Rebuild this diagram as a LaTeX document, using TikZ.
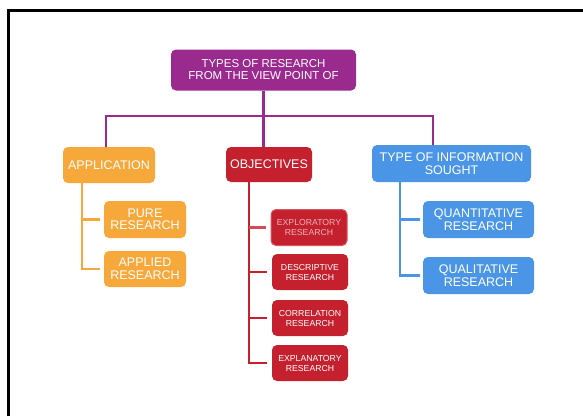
\documentclass[tikz,border=0pt]{standalone}
\usepackage{fontspec}
\setmainfont{Liberation Sans}
\usetikzlibrary{positioning}
\definecolor{HeadPurple}{HTML}{9A2A8E}
\definecolor{AppOrange}{HTML}{F6A83A}
\definecolor{ObjRed}{HTML}{C5202E}
\definecolor{InfoBlue}{HTML}{4B95E6}

\begin{document}
\begin{tikzpicture}[x=1pt, y=-1pt,
  box/.style={rounded corners=5pt, align=center, text=white, inner sep=1pt,
              font=\fontsize{12.5}{12.5}\selectfont},
  small/.style={box, minimum width=76pt, minimum height=36pt, fill=ObjRed,
                font=\fontsize{8.7}{10}\selectfont},
  link/.style={line width=2.8pt}
]
  \useasboundingbox (0,0) rectangle (583,416);
  % frame
  \draw[line width=3pt] (8.5,416) -- (8.5,10.5) -- (583,10.5);

  % top and first level
  \node[box, fill=HeadPurple, minimum width=185pt, minimum height=41pt,
        font=\fontsize{11.5}{12}\selectfont] (top) at (263.5,70)
    {TYPES OF RESEARCH\\FROM THE VIEW POINT OF};
  \node[box, fill=AppOrange, minimum width=92pt, minimum height=36pt]
    (app) at (109,165) {APPLICATION};
  \node[box, fill=ObjRed, minimum width=86pt, minimum height=35pt]
    (obj) at (269,164.5) {OBJECTIVES};
  \node[box, fill=InfoBlue, minimum width=159pt, minimum height=37pt]
    (info) at (451.5,163.5) {TYPE OF INFORMATION\\SOUGHT};

  % application
  \node[box, fill=AppOrange, minimum width=82pt, minimum height=37pt]
    (pure) at (145,219.5) {PURE\\RESEARCH};
  \node[box, fill=AppOrange, minimum width=82pt, minimum height=36pt]
    (applied) at (145,269) {APPLIED\\RESEARCH};

  % objectives
  \node[small, draw=ObjRed!75!white, line width=1pt,
        text=ObjRed!35!white] (explo) at (309,227.5)
    {EXPLORATORY\\RESEARCH};
  \node[small] (desc) at (310,272) {DESCRIPTIVE\\RESEARCH};
  \node[small] (corr) at (310,318) {CORRELATION\\RESEARCH};
  \node[small] (expla) at (310,363) {EXPLANATORY\\RESEARCH};

  % type of information
  \node[box, fill=InfoBlue, minimum width=111pt, minimum height=37pt]
    (quant) at (478.5,219.5) {QUANTITATIVE\\RESEARCH};
  \node[box, fill=InfoBlue, minimum width=111pt, minimum height=37pt]
    (qual) at (478.5,275.5) {QUALITATIVE\\RESEARCH};

  % connectors
  \coordinate (busL) at (106,116);
  \coordinate (busR) at (433,116);
  \draw[link, HeadPurple] (top.south) -- (top.south |- obj.north);
  \draw[link, HeadPurple] (app.north -| busL) -- (busL) -- (busR)
    -- (info.north -| busR);

  \coordinate (appX) at (82,0);
  \draw[link, AppOrange] (app.south -| appX)
    |- ([xshift=-4pt]applied.west);
  \draw[link, AppOrange] (appX |- pure.west) -- ([xshift=-4pt]pure.west);

  \coordinate (objX) at (249,0);
  \draw[link, ObjRed] (obj.south -| objX) |- ([xshift=-5pt]expla.west);
  \draw[link, ObjRed!80!white] (objX |- explo.west)
    -- ([xshift=-5pt]explo.west);
  \draw[link, ObjRed] (objX |- desc.west) -- ([xshift=-5pt]desc.west);
  \draw[link, ObjRed] (objX |- corr.west) -- ([xshift=-5pt]corr.west);

  \coordinate (infoX) at (400,0);
  \draw[link, InfoBlue] (info.south -| infoX) |- ([xshift=-3pt]qual.west);
  \draw[link, InfoBlue] (infoX |- quant.west) -- ([xshift=-3pt]quant.west);
\end{tikzpicture}
\end{document}
